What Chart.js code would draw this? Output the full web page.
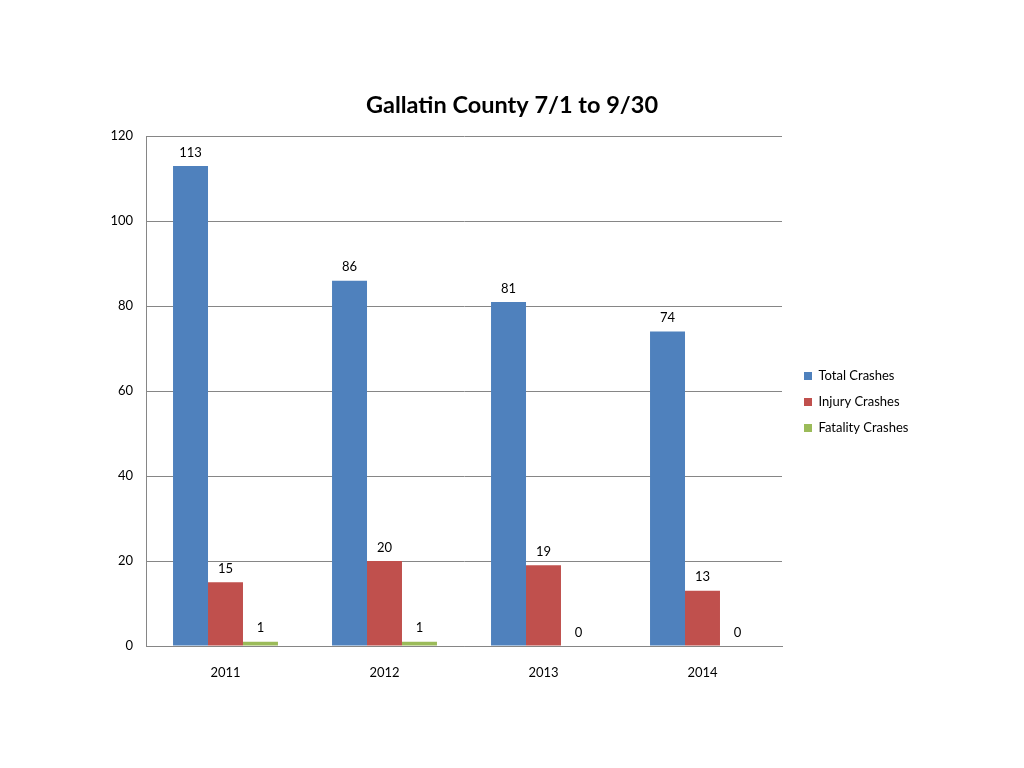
<!DOCTYPE html>
<html>
<head>
<meta charset="utf-8">
<script src="https://cdn.jsdelivr.net/npm/chart.js@4/dist/chart.umd.min.js"></script>
<style>
  html, body { margin: 0; padding: 0; background: #fff; }
  #wrap { width: 1024px; height: 768px; }
</style>
</head>
<body>
<div id="wrap"><canvas id="grafico" width="1024" height="768"></canvas></div>
<script>
const anios = ["2011", "2012", "2013", "2014"];
const totalCrashes = [113, 86, 81, 74];
const injuryCrashes = [15, 20, 19, 13];
const fatalityCrashes = [1, 1, 0, 0];
const ticksY = [0, 20, 40, 60, 80, 100, 120];

const fuente = "Lato, 'Open Sans', sans-serif";

// Etiquetas encima de cada barra
const etiquetasBarras = {
  id: "etiquetasBarras",
  afterDatasetsDraw(chart) {
    const ctx = chart.ctx;
    ctx.save();
    ctx.font = "13px " + fuente;
    ctx.fillStyle = "#000";
    ctx.textAlign = "center";
    ctx.textBaseline = "bottom";
    chart.data.datasets.forEach((ds, i) => {
      chart.getDatasetMeta(i).data.forEach((bar, j) => {
        ctx.fillText(ds.data[j], bar.x, bar.y - 7);
      });
    });
    ctx.restore();
  }
};

// Ancho fijo de la leyenda y pequeño desplazamiento a la derecha
const anchoLeyenda = {
  id: "anchoLeyenda",
  afterInit(chart) {
    const leyenda = chart.legend;
    const fitOriginal = leyenda.fit;
    leyenda.fit = function () {
      fitOriginal.call(this);
      this.width = 242;
    };
  },
  afterLayout(chart) {
    chart.legend.left += 9;
  }
};

new Chart(document.getElementById("grafico"), {
  type: "bar",
  data: {
    labels: anios,
    datasets: [
      { label: "Total Crashes", data: totalCrashes, backgroundColor: "#4F81BD" },
      { label: "Injury Crashes", data: injuryCrashes, backgroundColor: "#C0504D" },
      { label: "Fatality Crashes", data: fatalityCrashes, backgroundColor: "#9BBB59" }
    ]
  },
  options: {
    responsive: false,
    animation: false,
    layout: { padding: 0 },
    datasets: { bar: { categoryPercentage: 0.66, barPercentage: 1.0 } },
    plugins: {
      title: {
        display: true,
        text: "Gallatin County 7/1 to 9/30",
        color: "#000",
        font: { family: fuente, size: 23.5, weight: "bold" },
        padding: { top: 91, bottom: 17 }
      },
      legend: {
        position: "right",
        title: { display: true, text: " ", padding: 0, font: { size: 30 } },
        labels: {
          color: "#000",
          font: { family: fuente, size: 13 },
          boxWidth: 8,
          boxHeight: 8,
          padding: 13
        }
      },
      tooltip: { enabled: false }
    },
    scales: {
      x: {
        grid: { display: false },
        border: { color: "#868686" },
        ticks: { color: "#000", font: { family: fuente, size: 13 }, padding: 11 },
        afterFit(scale) { scale.height = 122; }
      },
      y: {
        min: 0,
        max: 120,
        afterBuildTicks(scale) { scale.ticks = ticksY.map(v => ({ value: v })); },
        grid: { color: "#868686", drawTicks: false },
        border: { color: "#868686" },
        ticks: { color: "#000", font: { family: fuente, size: 13 }, padding: 13 },
        afterFit(scale) { scale.width = 146; }
      }
    }
  },
  plugins: [etiquetasBarras, anchoLeyenda]
});
</script>
</body>
</html>
